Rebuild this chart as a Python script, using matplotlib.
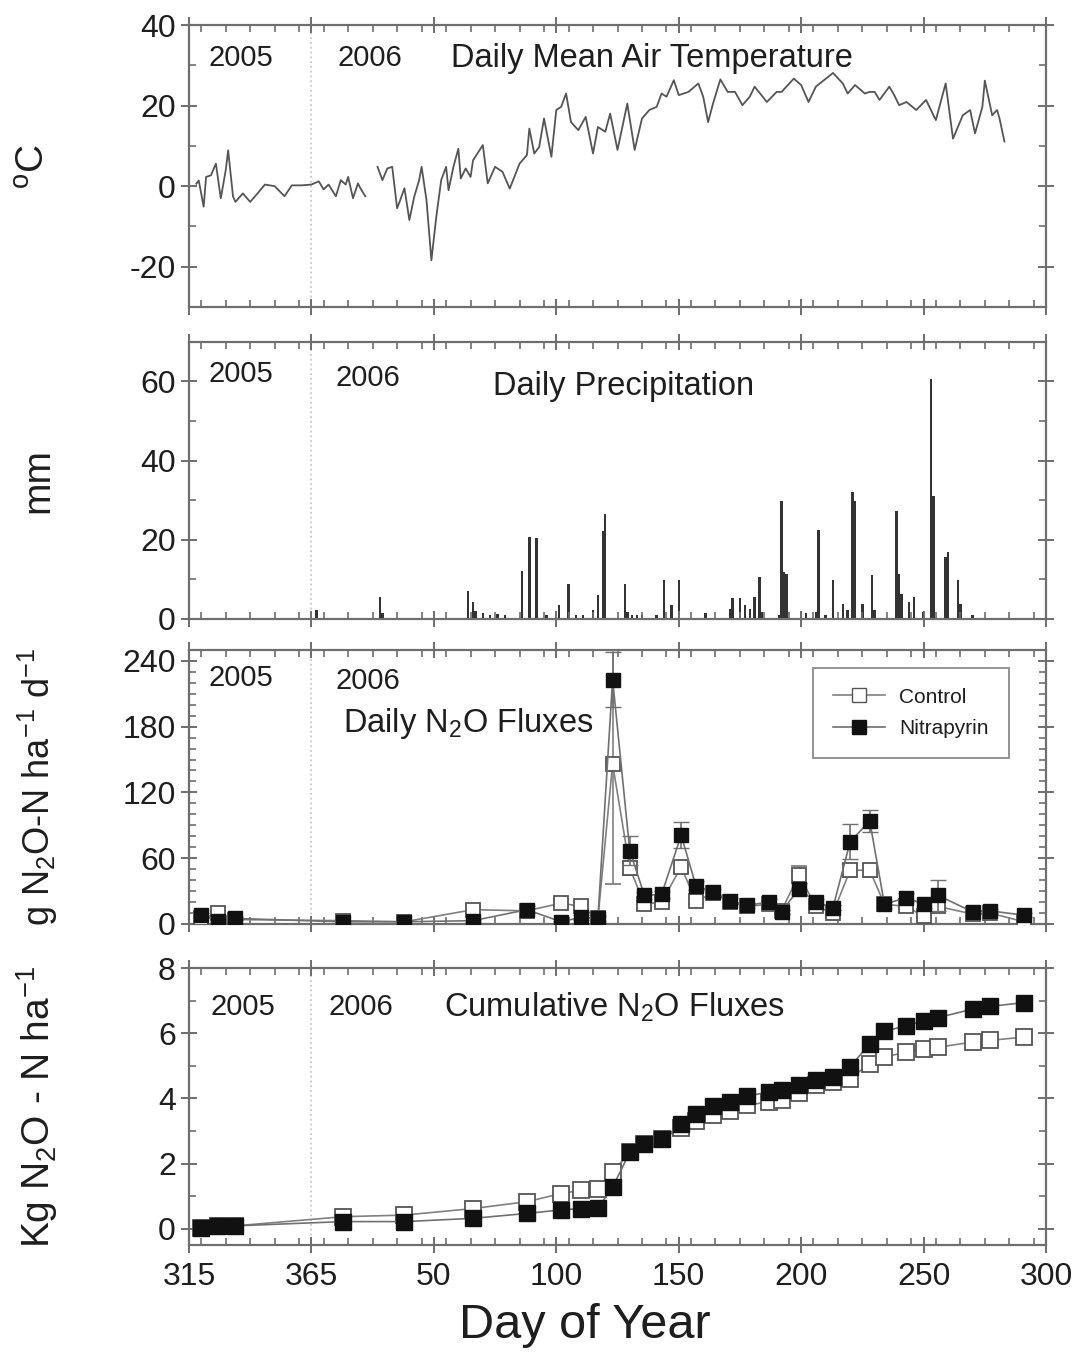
import matplotlib
matplotlib.use('Agg')
import matplotlib.pyplot as plt
from matplotlib.ticker import MultipleLocator
from matplotlib.lines import Line2D
import numpy as np

plt.rcParams['font.family'] = ['Liberation Sans', 'DejaVu Sans']
plt.rcParams['mathtext.fontset'] = 'custom'
plt.rcParams['mathtext.rm'] = 'Liberation Sans'
plt.rcParams['mathtext.default'] = 'regular'
plt.rcParams['axes.unicode_minus'] = False

# daily mean air temperature, segment 1 (day counted from 2005, >365 = 2006)
temp_day1 = [318, 319, 321, 322, 324, 326, 328, 330, 331, 333, 334, 337, 340, 343, 346, 350,
             354, 357, 361, 365, 368, 370, 372, 375, 377, 379, 380, 382, 384, 385, 387]
temp_val1 = [0.6, 1.4, -5.1, 2.3, 2.7, 5.6, -3.0, 3.9, 8.9, -2.6, -3.9, -1.8, -3.9, -1.8, 0.4, 0.0,
             -2.5, 0.2, 0.2, 0.4, 1.2, -0.8, 0.4, -2.5, 1.5, 0.4, 2.3, -3.0, 0.7, -0.5, -2.5]

# segment 2, day of year 2006
temp_doy2 = [27, 29, 31, 33, 35, 36, 38, 40, 42, 44, 45, 47, 49, 51, 53, 55, 56, 58, 60, 61, 63, 65,
             66, 70, 72, 75, 78, 81, 85, 88, 89, 91, 93, 95, 98, 100, 102, 104, 106, 109, 112, 115,
             117, 120, 122, 125, 129, 132, 135, 138, 141, 143, 145, 148, 150, 154, 158, 160, 162,
             164, 167, 170, 173, 176, 179, 181, 186, 190, 192, 197, 200, 203, 206, 213, 217, 219,
             222, 226, 228, 230, 232, 236, 238, 240, 243, 247, 251, 255, 259, 262, 266, 269, 271,
             274, 275, 278, 280, 281, 283]
temp_val2 = [4.8, 1.5, 4.4, 4.8, -5.5, -3.9, -0.5, -8.4, -2.6, 1.5, 4.8, -3.5, -18.4, -7.6, 1.5, 4.8,
             -1.0, 4.8, 9.3, 1.9, 4.4, 2.3,
             6.4, 10.2, 0.7, 4.8, 3.6, -0.6, 5.6, 7.7, 14.3, 8.1, 9.7, 16.8, 7.3, 18.9, 19.7, 23.0,
             15.9, 13.9, 17.2, 8.1, 14.7, 13.5, 18.0, 9.0, 20.5, 9.0, 16.8, 18.9, 19.7, 23.0, 22.2,
             26.3, 22.6, 23.4, 25.5, 22.2, 15.9, 20.5, 26.5, 23.4, 23.4, 20.1, 22.2,
             24.7, 20.9, 23.4, 23.4, 26.7, 25.1, 20.9, 24.7, 28.1, 25.5, 23.0, 25.1, 23.0, 23.4,
             23.4, 21.4, 24.7, 22.6, 20.1, 20.9, 18.9, 21.4, 16.4, 25.5, 11.8, 17.6, 18.9, 13.1,
             19.7, 26.2, 17.6, 18.9, 16.8, 11.1]

# daily precipitation, day of year 2006 (mm)
prec_doy = [2, 28, 29, 64, 66, 67, 70, 73, 76, 79, 86, 89, 92, 96, 101, 105, 108, 111, 115, 117,
            119, 120, 128, 129, 131, 133, 135, 141, 144, 147, 150, 161, 171, 172, 175, 177, 179,
            181, 183, 184, 191, 192, 193, 194, 200, 202, 206, 207, 210, 213, 217, 219, 221, 222,
            225, 229, 230, 239, 240, 241, 244, 246, 250, 253, 254, 259, 260, 264, 265, 270]
prec_mm = [2.2, 5.6, 1.4, 7.0, 4.4, 2.0, 1.4, 1.0, 1.2, 1.0, 12.2, 20.6, 20.4, 1.0, 3.4, 8.9, 1.0,
           1.0, 2.2, 6.0, 22.2, 26.4, 8.9, 1.8, 1.0, 1.0, 1.0, 1.0, 9.8, 3.5, 9.8, 1.6, 2.6, 5.2,
           5.2, 3.5, 2.6, 5.6, 10.6, 1.8, 1.0, 29.8, 11.8, 11.4, 1.4, 1.6, 1.8, 22.6, 1.0, 9.8,
           3.9, 2.2, 32.2, 29.8, 3.9, 11.0, 2.2, 27.2, 11.4, 6.4, 4.4, 5.6, 1.8, 60.6, 31.0, 15.6,
           16.8, 9.8, 3.9, 1.0]

# N2O sampling days: 2005 dates then 2006 dates
flux_doy_2005 = [320, 327, 334]
flux_doy_2006 = [13, 38, 66, 88, 102, 110, 117, 123, 130, 136, 143, 151, 157, 164, 171, 178,
                 187, 192, 199, 206, 213, 220, 228, 234, 243, 250, 256, 270, 277, 291]

flux_control = [5, 10, 4, 3, 2, 13, 12, 19, 16, 5, 146, 51, 18, 20, 52, 21, 28, 20, 16, 18, 12,
                45, 16, 10, 49, 49, 18, 16, 7, 16, 9, 10, 2]
flux_control_err = [2, 2, 2, 1, 1, 3, 3, 3, 3, 2, 110, 6, 3, 3, 5, 3, 3, 3, 2, 3, 2,
                    8, 3, 2, 6, 6, 3, 3, 2, 3, 2, 2, 1]
flux_nitra = [8, 3, 5, 2, 2, 3, 13, 2, 6, 5, 223, 67, 26, 27, 81, 35, 29, 21, 17, 20, 11,
              32, 20, 15, 75, 94, 18, 24, 18, 26, 11, 12, 8]
flux_nitra_err = [2, 1, 1, 1, 1, 1, 3, 1, 2, 2, 25, 13, 3, 3, 12, 4, 3, 3, 2, 3, 2,
                  5, 3, 2, 16, 10, 3, 4, 3, 14, 2, 2, 2]

cum_control = [0.02, 0.07, 0.09, 0.37, 0.42, 0.62, 0.83, 1.08, 1.18, 1.23, 1.73, 2.35, 2.6, 2.75,
               3.1, 3.3, 3.5, 3.6, 3.79, 3.9, 3.96, 4.16, 4.41, 4.49, 4.61, 5.07, 5.27, 5.42,
               5.52, 5.57, 5.73, 5.78, 5.88]
cum_nitra = [0.02, 0.07, 0.09, 0.22, 0.22, 0.32, 0.47, 0.58, 0.62, 0.63, 1.28, 2.34, 2.6, 2.75,
             3.2, 3.53, 3.76, 3.9, 4.06, 4.21, 4.26, 4.41, 4.56, 4.67, 4.97, 5.68, 6.06, 6.23,
             6.38, 6.48, 6.74, 6.82, 6.94]

xtick_pos = [315, 365, 415, 465, 515, 565, 615, 665]
xtick_lab = ['315', '365', '50', '100', '150', '200', '250', '300']

temp_x2 = np.array(temp_doy2) + 365
prec_x = np.array(prec_doy) + 365
flux_x = np.concatenate([flux_doy_2005, np.array(flux_doy_2006) + 365])

spine_col = '#6e6e6e'
text_col = '#1e1e1e'
yr_fs = 21
title_fs = 23.5

fig = plt.figure(figsize=(10.91, 13.52), dpi=100)
L, W = 0.1732, 0.7856
axes = [fig.add_axes([L, 0.7729, W, 0.2086]),
        fig.add_axes([L, 0.5422, W, 0.2049]),
        fig.add_axes([L, 0.3166, W, 0.2027]),
        fig.add_axes([L, 0.0791, W, 0.2049])]

for ax in axes:
    ax.set_xlim(315, 665)
    ax.set_xticks(xtick_pos)
    ax.xaxis.set_minor_locator(MultipleLocator(10))
    ax.axvline(365, color='#c8c8c8', ls=':', lw=1.3, zorder=0)
    for s in ax.spines.values():
        s.set_color(spine_col)
        s.set_linewidth(1.6)
    ax.tick_params(which='major', direction='inout', length=12, width=1.4, color=spine_col,
                   top=True, right=True, labelsize=23, labelcolor=text_col)
    ax.tick_params(which='minor', direction='in', length=5, width=1.2, color=spine_col,
                   top=True, right=True)
    ax.tick_params(axis='x', labelbottom=False)

# panel 1: temperature
ax = axes[0]
ax.plot(temp_day1, temp_val1, color='#555555', lw=1.3)
ax.plot(temp_x2, temp_val2, color='#555555', lw=1.3)
ax.set_ylim(-30, 40)
ax.set_yticks([-20, 0, 20, 40])
ax.yaxis.set_minor_locator(MultipleLocator(10))
ax.set_ylabel('$^{o}$C', fontsize=28, color=text_col)
ax.yaxis.set_label_coords(-0.16, 0.5)
ax.text(336, 31.8, '2005', fontsize=yr_fs, ha='center', va='center', color=text_col)
ax.text(389, 31.8, '2006', fontsize=yr_fs, ha='center', va='center', color=text_col)
ax.text(422, 31.8, 'Daily Mean Air Temperature', fontsize=title_fs, ha='left', va='center', color=text_col)

# panel 2: precipitation
ax = axes[1]
ax.bar(prec_x, prec_mm, width=1.0, color='#333333', edgecolor='none')
ax.set_ylim(0, 70)
ax.set_yticks([0, 20, 40, 60])
ax.yaxis.set_minor_locator(MultipleLocator(10))
ax.set_ylabel('mm', fontsize=28, color=text_col)
ax.yaxis.set_label_coords(-0.155, 0.5)
ax.text(336, 61.8, '2005', fontsize=yr_fs, ha='center', va='center', color=text_col)
ax.text(388, 61, '2006', fontsize=yr_fs, ha='center', va='center', color=text_col)
ax.text(439, 58.8, 'Daily Precipitation', fontsize=title_fs, ha='left', va='center', color=text_col)

# panel 3: daily fluxes
ax = axes[2]
ax.errorbar(flux_x, flux_control, yerr=flux_control_err, color='#808080', lw=1.2,
            ecolor='#808080', elinewidth=1.2, capsize=6, marker='s', ms=10, mfc='white',
            mec='#555555', mew=1.3, zorder=3)
ax.errorbar(flux_x, flux_nitra, yerr=flux_nitra_err, color='#707070', lw=1.2,
            ecolor='#707070', elinewidth=1.2, capsize=6, marker='s', ms=10, mfc='#111111',
            mec='#111111', zorder=4)
ax.set_ylim(0, 250)
ax.set_yticks([0, 60, 120, 180, 240])
ax.yaxis.set_minor_locator(MultipleLocator(10))
ax.set_ylabel('g N$_2$O-N ha$^{-1}$ d$^{-1}$', fontsize=26, color=text_col)
ax.yaxis.set_label_coords(-0.15, 0.5)
ax.text(336, 224.5, '2005', fontsize=yr_fs, ha='center', va='center', color=text_col)
ax.text(388, 222, '2006', fontsize=yr_fs, ha='center', va='center', color=text_col)
ax.text(378, 183, 'Daily N$_2$O Fluxes', fontsize=title_fs, ha='left', va='center', color=text_col)
handles = [Line2D([], [], color='#808080', lw=1.2, marker='s', ms=10, mfc='white', mec='#555555'),
           Line2D([], [], color='#707070', lw=1.2, marker='s', ms=10, mfc='#111111', mec='#111111')]
leg = ax.legend(handles, ['Control', 'Nitrapyrin'], loc='upper left', bbox_to_anchor=(0.728, 0.935),
                fontsize=15, frameon=True, fancybox=False, edgecolor='#777777', handlelength=2.5,
                borderpad=0.95, labelspacing=0.6, handletextpad=0.7, borderaxespad=0)
leg.get_frame().set_linewidth(1.4)
for t in leg.get_texts():
    t.set_color(text_col)

# panel 4: cumulative fluxes
ax = axes[3]
ax.plot(flux_x, cum_control, color='#808080', lw=1.2, marker='s', ms=11, mfc='white',
        mec='#555555', mew=1.3, zorder=3)
ax.plot(flux_x, cum_nitra, color='#707070', lw=1.2, marker='s', ms=11, mfc='#111111',
        mec='#111111', zorder=4)
ax.set_ylim(-0.5, 8)
ax.set_yticks([0, 2, 4, 6, 8])
ax.yaxis.set_minor_locator(MultipleLocator(1))
ax.set_ylabel('Kg N$_2$O - N ha$^{-1}$', fontsize=28, color=text_col)
ax.yaxis.set_label_coords(-0.15, 0.5)
ax.text(337, 6.8, '2005', fontsize=yr_fs, ha='center', va='center', color=text_col)
ax.text(385, 6.8, '2006', fontsize=yr_fs, ha='center', va='center', color=text_col)
ax.text(419, 6.8, 'Cumulative N$_2$O Fluxes', fontsize=title_fs, ha='left', va='center', color=text_col)
ax.set_xticklabels(xtick_lab)
ax.tick_params(axis='x', labelbottom=True, pad=6)
ax.set_xlabel('Day of Year', fontsize=35, color=text_col)
ax.xaxis.set_label_coords(0.462, -0.21)

fig.savefig('out.png', dpi=100)
